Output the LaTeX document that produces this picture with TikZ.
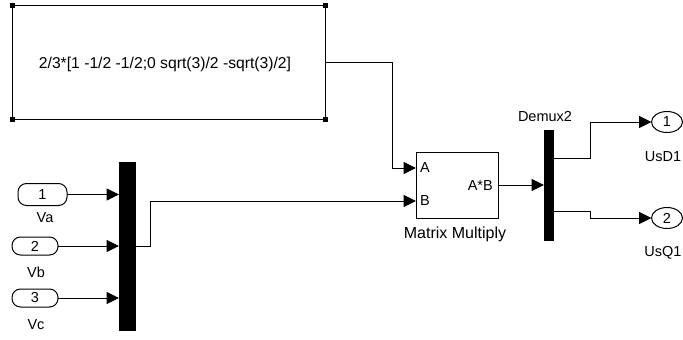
\documentclass[tikz,border=0pt]{standalone}
\usepackage{fontspec}
\setmainfont{Liberation Sans}
\usetikzlibrary{arrows.meta,shapes.geometric}
\newcommand\lblf{\fontsize{14.5}{16}\selectfont}
\newcommand\bigf{\fontsize{15.7}{18}\selectfont}
\begin{document}
\begin{tikzpicture}[x=1pt,y=-1pt,
  blk/.style={draw, line width=1pt, inner sep=0pt, outer sep=0pt},
  barblk/.style={fill=black, draw=black, inner sep=0pt, outer sep=0pt},
  port/.style={blk, rounded corners=8.5pt, font=\lblf},
  oport/.style={blk, ellipse, minimum width=31pt, minimum height=21pt, font=\lblf},
  wire/.style={line width=1pt},
  arr/.style={wire, -{Triangle[length=12.5pt,width=12pt]}},
  lbl/.style={font=\lblf, inner sep=0pt, anchor=base}]
\useasboundingbox (0,0) rectangle (683,340);
% blocks
\node[blk, minimum width=313pt, minimum height=114pt] (const) at (168.5,62) {};
\node[lbl, font=\bigf] (ctext) at (165,68.3) {2/3*[1 -1/2 -1/2;0 sqrt(3)/2 -sqrt(3)/2]};
\foreach \c in {north west, north east, south west, south east}
  \fill (const.\c) ++(-2.5,-2.5) rectangle ++(5,5);
\node[blk, minimum width=82pt, minimum height=66pt] (mm) at (457,185) {};
\node[barblk, minimum width=16pt, minimum height=168pt] (mux) at (127,246) {};
\node[barblk, minimum width=9pt, minimum height=110pt] (demux) at (548.5,185) {};
\node[port, minimum width=49pt, minimum height=22pt] (in1) at (42.5,194.5) {1};
\node[port, minimum width=46pt, minimum height=18pt] (in2) at (35,246) {2};
\node[port, minimum width=46pt, minimum height=18pt] (in3) at (35,298) {3};
\node[oport] (out1) at (667,122) {1};
\node[oport] (out2) at (667,218) {2};
% labels
\node[lbl] (la) at (45,222) {Va};
\node[lbl] (lb) at (36,277) {Vb};
\node[lbl] (lc) at (36,329) {Vc};
\node[lbl] (ldm) at (545,121) {Demux2};
\node[lbl] (lo1) at (663,161) {UsD1};
\node[lbl] (lo2) at (663,256) {UsQ1};
\node[lbl, anchor=base west] (pa) at (420,172) {A};
\node[lbl, anchor=base west] (pb) at (420,205) {B};
\node[lbl, anchor=base east] (pab) at (493,190) {A*B};
\node[lbl, font=\fontsize{16}{18}\selectfont] (lmm) at (455,238) {Matrix Multiply};
% ports
\coordinate (mmA) at (416,168);
\coordinate (mmB) at (416,201);
\coordinate (muxo) at (135,246);
\coordinate (d1) at (553,158.3);
\coordinate (d2) at (553,211.7);
% connectors
\draw[arr] (in1.east) -- (in1.east -| mux.west);
\draw[arr] (in2.east) -- (in2.east -| mux.west);
\draw[arr] (in3.east) -- (in3.east -| mux.west);
\draw[arr] (const.east) -- ++(67,0) |- (mmA);
\draw[arr] (muxo) -- ++(15,0) |- (mmB);
\draw[arr] (mm.east) -- (demux.west);
\draw[arr] (d1) -- ++(37,0) |- (out1.west);
\draw[arr] (d2) -- ++(37,0) |- (out2.west);
\end{tikzpicture}
\end{document}
